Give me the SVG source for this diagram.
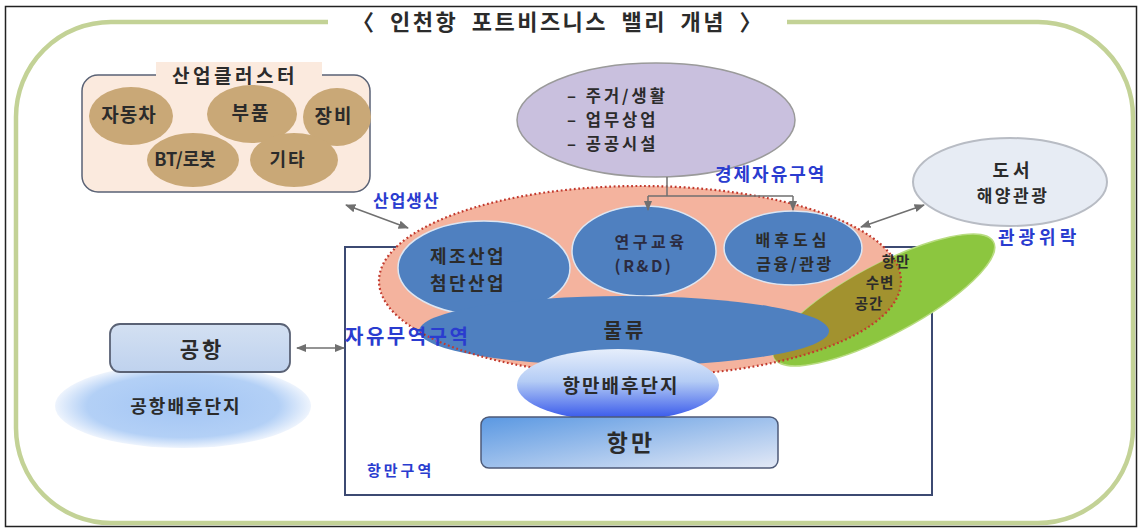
<svg xmlns="http://www.w3.org/2000/svg" width="1141" height="529" viewBox="0 0 1141 529">
<defs>
<style>
.t{font-family:"Noto Sans CJK KR","Noto Sans",sans-serif;fill:#2b2b2b;text-anchor:middle;font-weight:700}
.s{text-anchor:start}
.b{font-family:"Noto Sans CJK KR","Noto Sans",sans-serif;fill:#2a3ccf;font-weight:700}
.ar{stroke:#707070;stroke-width:1.5;fill:none}
.blue{fill:#4f80c0;stroke:#dce6f3;stroke-width:1.5}
.tan{fill:#c9a877}
</style>
<marker id="ah" viewBox="0 0 10 10" refX="9" refY="5" markerWidth="7" markerHeight="7" orient="auto-start-reverse">
<path d="M0,1 L10,5 L0,9 z" fill="#707070"/>
</marker>
<linearGradient id="gPB" x1="0" y1="0" x2="0" y2="1">
<stop offset="0" stop-color="#e6eefb"/>
<stop offset="0.45" stop-color="#b4ccf5"/>
<stop offset="1" stop-color="#2f50ea"/>
</linearGradient>
<linearGradient id="gP" x1="0" y1="0" x2="1" y2="1">
<stop offset="0" stop-color="#5a98e2"/>
<stop offset="1" stop-color="#e3e9f6"/>
</linearGradient>
<radialGradient id="gAB" cx="0.5" cy="0.5" r="0.5">
<stop offset="0" stop-color="#a3c5f4"/>
<stop offset="0.75" stop-color="#b3d0f6"/>
<stop offset="1" stop-color="#eef4fd"/>
</radialGradient>
<linearGradient id="gA" x1="0" y1="0" x2="0" y2="1">
<stop offset="0" stop-color="#d3e0f2"/>
<stop offset="1" stop-color="#bfd2ee"/>
</linearGradient>
<clipPath id="cSal">
<ellipse cx="640" cy="281" rx="261" ry="95"/>
</clipPath>
</defs>

<rect x="5.5" y="6.5" width="1131" height="520" fill="#ffffff" stroke="#222" stroke-width="1.5"/>

<g id="frame">
<rect x="16" y="22" width="1117" height="501" rx="95" ry="95" fill="none" stroke="#c3d296" stroke-width="4.5"/>
<rect x="328" y="10" width="459" height="26" fill="#ffffff"/>
<text class="t" x="558" y="30" font-size="22" letter-spacing="2.5" word-spacing="6" fill="#333">〈 인천항 포트비즈니스 밸리 개념 〉</text>
</g>

<g id="cluster">
<rect x="82" y="75" width="288" height="117" rx="16" fill="#fbeade" stroke="#5a6275" stroke-width="1.5"/>
<rect x="156" y="62" width="166" height="26" fill="#fbeade"/>
<text class="t" x="235" y="83" font-size="19" letter-spacing="3.5">산업클러스터</text>
<ellipse class="tan" cx="131" cy="116" rx="42" ry="29"/>
<ellipse class="tan" cx="252" cy="114" rx="45" ry="29"/>
<ellipse class="tan" cx="337" cy="117" rx="34" ry="29"/>
<ellipse class="tan" cx="193" cy="160" rx="46" ry="27"/>
<ellipse class="tan" cx="294" cy="160" rx="44" ry="27"/>
<text class="t" x="129" y="122" font-size="19" letter-spacing="1">자동차</text>
<text class="t" x="251" y="120" font-size="19" letter-spacing="2">부품</text>
<text class="t" x="334" y="123" font-size="19" letter-spacing="2">장비</text>
<text class="t" x="185" y="166" font-size="18">BT/로봇</text>
<text class="t" x="288" y="166" font-size="18" letter-spacing="2">기타</text>
</g>

<g id="living">
<ellipse cx="656" cy="120" rx="139" ry="57" fill="#c9c0de" stroke="#9a9a9a" stroke-width="1.5"/>
<text class="t s" x="567" y="102" font-size="16.5" letter-spacing="3">– 주거/생활</text>
<text class="t s" x="567" y="126" font-size="16.5" letter-spacing="3">– 업무상업</text>
<text class="t s" x="567" y="150" font-size="16.5" letter-spacing="3">– 공공시설</text>
</g>

<g id="island">
<ellipse cx="1010" cy="182" rx="97" ry="44" fill="#e7ecf4" stroke="#b8bcc4" stroke-width="2"/>
<text class="t" x="1013" y="177" font-size="18" letter-spacing="4">도서</text>
<text class="t" x="1013" y="202" font-size="17" letter-spacing="2.5">해양관광</text>
</g>

<g id="portzone">
<path d="M345,247 H932 V495 H345 Z" fill="none" stroke="#3c4a72" stroke-width="2"/>
</g>

<g id="efz">
<ellipse cx="640" cy="281" rx="261" ry="95" fill="#f4b39e"/>
</g>

<g id="waterfront">
<ellipse cx="884" cy="300" rx="124" ry="35" transform="rotate(-28 884 300)" fill="#8cc63f" stroke="#b8dc80" stroke-width="1.5"/>
<g clip-path="url(#cSal)">
<ellipse cx="884" cy="300" rx="124" ry="35" transform="rotate(-28 884 300)" fill="#a2922f"/>
</g>
</g>

<g id="manufacturing">
<ellipse class="blue" cx="484" cy="268" rx="86" ry="47"/>
<text class="t" x="468" y="263" font-size="18" letter-spacing="2.5">제조산업</text>
<text class="t" x="468" y="289.5" font-size="18" letter-spacing="2.5">첨단산업</text>
</g>
<g id="rnd">
<ellipse class="blue" cx="644" cy="251" rx="72" ry="45"/>
<text class="t" x="651" y="248" font-size="16" letter-spacing="3.5" style="fill:#2b2b40">연구교육</text>
<text class="t" x="644" y="271.5" font-size="16" letter-spacing="2.5" style="fill:#2b2b40">(R&amp;D)</text>
</g>
<g id="downtown">
<ellipse class="blue" cx="793" cy="248" rx="69" ry="37"/>
<text class="t" x="793" y="246" font-size="16" letter-spacing="4">배후도심</text>
<text class="t" x="795" y="269.5" font-size="16" letter-spacing="2.5">금융/관광</text>
</g>
<g id="logistics">
<ellipse cx="624" cy="331" rx="205" ry="35" fill="#4f80c0"/>
<text class="t" x="625" y="338" font-size="20" letter-spacing="3">물류</text>
</g>

<ellipse cx="640" cy="281" rx="261" ry="95" fill="none" stroke="#c23a2e" stroke-width="2.2" stroke-dasharray="1.8 2.6"/>

<g id="wftext">
<text class="t" x="896" y="267" font-size="14.5" letter-spacing="1">항만</text>
<text class="t" x="880" y="288" font-size="14.5" letter-spacing="1">수변</text>
<text class="t" x="869" y="309" font-size="14.5" letter-spacing="1">공간</text>
</g>

<g id="portback">
<ellipse cx="618" cy="385" rx="101" ry="36" fill="url(#gPB)"/>
<text class="t" x="621" y="393" font-size="19" letter-spacing="2">항만배후단지</text>
</g>

<g id="port">
<rect x="481" y="417" width="297" height="51" rx="8" fill="url(#gP)" stroke="#4d5a78" stroke-width="1.5"/>
<text class="t" x="631" y="451" font-size="23" letter-spacing="3">항만</text>
</g>

<g id="airportback">
<ellipse cx="183" cy="406" rx="128" ry="42" fill="url(#gAB)"/>
<text class="t" x="186" y="413" font-size="18" letter-spacing="2">공항배후단지</text>
</g>
<g id="airport">
<rect x="110" y="324" width="180" height="48" rx="10" fill="url(#gA)" stroke="#5a6275" stroke-width="1.8"/>
<text class="t" x="202" y="357" font-size="21" letter-spacing="3">공항</text>
</g>

<g id="connectors">
<path class="ar" d="M667,177 V196 M648,196 H793" />
<path class="ar" d="M648,196 V210" marker-end="url(#ah)"/>
<path class="ar" d="M793,196 V210" marker-end="url(#ah)"/>
<path class="ar" d="M346,205 L408,228" marker-start="url(#ah)" marker-end="url(#ah)"/>
<path class="ar" d="M297,348 L344,348" marker-start="url(#ah)" marker-end="url(#ah)"/>
<path class="ar" d="M861,227 L924,205" marker-start="url(#ah)" marker-end="url(#ah)"/>
</g>

<g id="labels">
<text class="b" x="715" y="181" font-size="18" letter-spacing="2">경제자유구역</text>
<text class="b" x="373" y="207" font-size="17" letter-spacing="1">산업생산</text>
<text class="b" x="345" y="344" font-size="20" letter-spacing="2.5">자유무역구역</text>
<text class="b" x="998" y="244" font-size="18" letter-spacing="4">관광위락</text>
<text class="b" x="367" y="476" font-size="15" letter-spacing="3">항만구역</text>
</g>
</svg>
